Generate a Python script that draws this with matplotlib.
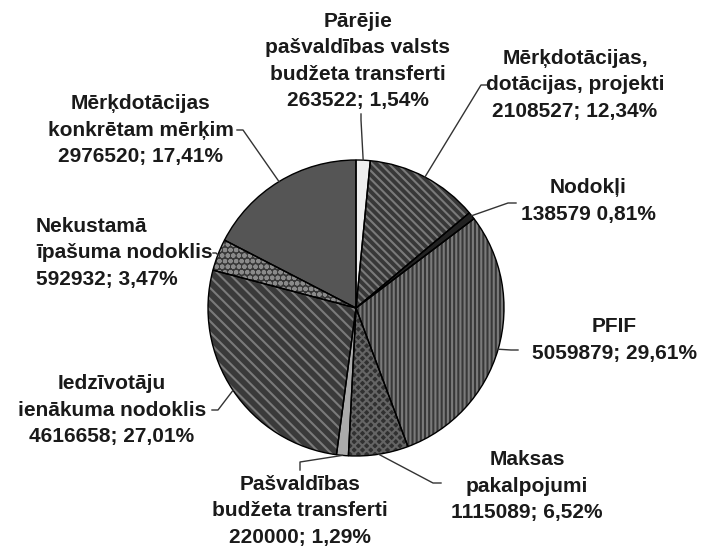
import matplotlib
matplotlib.use('Agg')
import matplotlib.pyplot as plt
import numpy as np

plt.rcParams['font.family'] = ['Liberation Sans', 'DejaVu Sans']
plt.rcParams['hatch.linewidth'] = 1.5

# dati (vērtības no attēla)
nosaukumi = ['Pārējie\npašvaldības valsts\nbudžeta transferti',
             'Mērķdotācijas,\ndotācijas, projekti',
             'Nodokļi',
             'PFIF',
             'Maksas\npakalpojumi',
             'Pašvaldības\nbudžeta transferti',
             'Iedzīvotāju\nienākuma nodoklis',
             'Nekustamā\nīpašuma nodoklis',
             'Mērķdotācijas\nkonkrētam mērķim']
summas = [263522, 2108527, 138579, 5059879, 1115089, 220000, 4616658, 592932, 2976520]
procenti = ['1,54%', '12,34%', '0,81%', '29,61%', '6,52%', '1,29%', '27,01%', '3,47%', '17,41%']
atdalitajs = ['; ', '; ', ' ', '; ', '; ', '; ', '; ', '; ', '; ']

# stils
krasas = ['#eeeeee', '#383838', '#222222', '#383838', '#303030', '#aaaaaa', '#3a3a3a', '#383838', '#555555']
svitrojums = [None, '\\\\\\\\', None, '||||', 'xxxx', None, '\\\\\\', 'ooo', None]
svitru_krasas = ['#808080', '#7a7a7a', '#808080', '#7a7a7a', '#646464', '#808080', '#7a7a7a', '#8a8a8a', '#808080']

# izkārtojums pikseļos (centrs x, centrs y, līdzinājums)
W, H = 702, 548
cx, cy, R = 356, 308, 148
teksta_vietas = [(358, 61, 'center'), (575, 85, 'center'), (588, 201, 'center'),
                 (614, 340, 'center'), (527, 486, 'center'), (300, 511, 'center'),
                 (112, 410, 'center'), (36, 253, 'left'), (141, 130, 'center')]
liniju_sakums = [[(361, 114), (361, 120)], [(488, 85), (481, 85)], [(516, 203), (508, 203)],
                 [(518, 350), (511, 350)], [(441, 483), (433, 483)], [(300, 470), (300, 462)],
                 [(212, 410), (218, 410)], [(213, 253), (216, 253)], [(237, 130), (243, 130)]]


def px(x, y):
    return (x - cx) / R, (cy - y) / R


fig = plt.figure(figsize=(W / 100, H / 100), dpi=100)
ax = fig.add_axes([0, 0, 1, 1])

wedges, _ = ax.pie(summas, startangle=90, counterclock=False, radius=1,
                   colors=krasas, wedgeprops=dict(linewidth=0))
for w, h, hc in zip(wedges, svitrojums, svitru_krasas):
    if h:
        w.set_hatch(h)
        w.set_edgecolor(hc)
        w.set_linewidth(0)

ax.pie(summas, startangle=90, counterclock=False, radius=1,
       wedgeprops=dict(fill=False, linewidth=1.0, edgecolor='black'))

ax.set_aspect('auto')
ax.set_xlim(px(0, 0)[0], px(W, 0)[0])
ax.set_ylim(px(0, H)[1], px(0, 0)[1])
ax.axis('off')

for i, w in enumerate(wedges):
    teksts = nosaukumi[i] + '\n' + format(summas[i], 'd') + atdalitajs[i] + procenti[i]
    x, y, al = teksta_vietas[i]
    tx, ty = px(x, y)
    ax.text(tx, ty, teksts, ha=al, va='center', multialignment=al,
            fontsize=15, fontweight='bold', color='#1a1a1a', linespacing=1.5)
    ang = np.deg2rad((w.theta1 + w.theta2) / 2)
    ex, ey = np.cos(ang), np.sin(ang)
    p = [px(*q) for q in liniju_sakums[i]]
    ax.plot([p[0][0], p[1][0], ex], [p[0][1], p[1][1], ey], color='#333333', lw=1.0)

fig.savefig('out.png', dpi=100, facecolor='white')
